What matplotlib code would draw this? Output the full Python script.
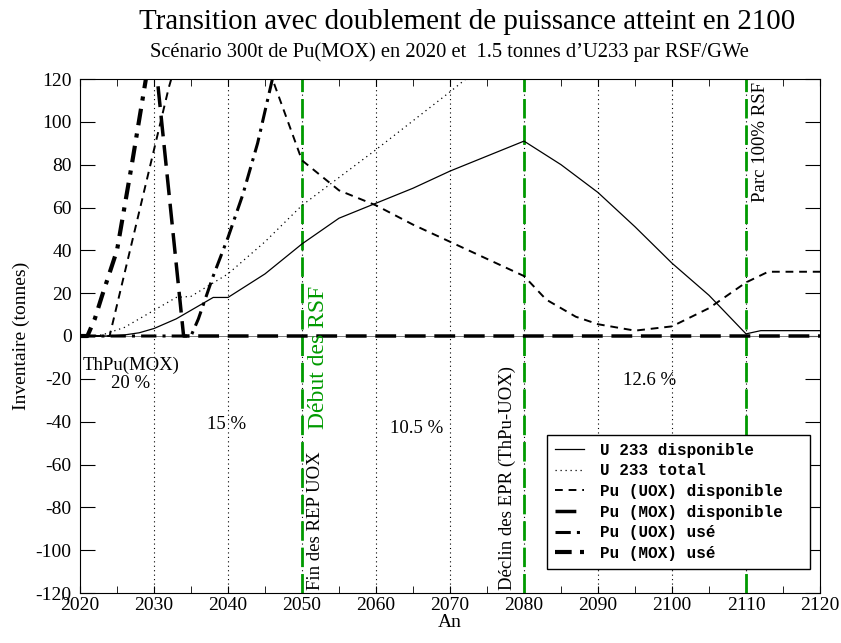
import numpy as np
import matplotlib
matplotlib.use("Agg")
import matplotlib.pyplot as plt

plt.rcParams['font.family'] = ['Liberation Serif', 'DejaVu Serif']
plt.rcParams['axes.unicode_minus'] = False

# inventaires (tonnes)
u233_disp_x = [2020, 2024, 2026, 2028, 2030, 2033, 2036, 2038, 2040, 2045, 2050, 2055, 2060,
               2065, 2070, 2075, 2080, 2085, 2090, 2095, 2100, 2105, 2110, 2112, 2120]
u233_disp_y = [0, 0, 0.5, 1.5, 3.5, 8, 14, 18, 18, 29, 43, 55, 62,
               69, 77, 84, 91, 80, 67, 51, 34, 19, 1, 2.5, 2.5]

u233_tot_x = [2020, 2023, 2026, 2030, 2033, 2035, 2040, 2045, 2050, 2055, 2060, 2070, 2075]
u233_tot_y = [0, 0.5, 4, 12, 18, 18.5, 29, 44, 61, 74, 87, 114, 128]

pu_uox_disp_x = [2020, 2024, 2030, 2032, 2034, 2040, 2046, 2050, 2055, 2060, 2065, 2070, 2075,
                 2080, 2083, 2087, 2090, 2095, 2100, 2105, 2110, 2113, 2120]
pu_uox_disp_y = [0, 0, 87, 116, 140, 160, 120, 82, 68, 61, 52, 44, 36,
                 28, 17, 9, 5.5, 2.5, 4.5, 13, 25, 30, 30]

pu_mox_disp_x = [2020, 2030, 2034, 2120]
pu_mox_disp_y = [300, 135, 0, 0]

pu_uox_use_x = [2020, 2035, 2036, 2038, 2040, 2042, 2044, 2046, 2047]
pu_uox_use_y = [0, 0, 8, 28, 46, 66, 90, 120, 135]

pu_mox_use_x = [2020, 2021, 2022, 2023, 2025, 2027, 2029, 2030]
pu_mox_use_y = [0, 0, 8, 19, 40, 80, 122, 150]

transitions = [2050, 2080, 2110]

fig = plt.figure(figsize=(8.41, 6.43), dpi=100)
ax = fig.add_axes([80/841, 50/643, 740/841, 514/643])

# grille verticale pointillée
for yr in range(2030, 2120, 10):
    ax.axvline(yr, color='black', lw=0.8, ls=(0, (1, 3)), zorder=1)
for yr in transitions:
    ax.axvline(yr, color='#009a00', lw=2, ls=(0, (7, 2.5)), zorder=2)

ax.axhline(0, color='0.4', lw=0.6, zorder=2)

ax.plot(u233_disp_x, u233_disp_y, color='black', lw=0.9, label='U 233 disponible  ', zorder=3)
ax.plot(u233_tot_x, u233_tot_y, color='black', lw=0.9, ls=(0, (1, 3)), label='U 233 total', zorder=3)
ax.plot(pu_uox_disp_x, pu_uox_disp_y, color='black', lw=1.4, ls=(0, (4, 3)),
        label='Pu (UOX) disponible  ', zorder=3)
ax.plot(pu_mox_disp_x, pu_mox_disp_y, color='black', lw=2.5, ls=(0, (6, 2.5)),
        label='Pu (MOX) disponible  ', zorder=3)
ax.plot(pu_uox_use_x, pu_uox_use_y, color='black', lw=2.2, ls=(0, (5, 2, 1, 2)),
        label='Pu (UOX) usé', zorder=3)
ax.plot(pu_mox_use_x, pu_mox_use_y, color='black', lw=3, ls=(0, (4, 2, 1, 2)),
        label='Pu (MOX) usé', zorder=3)

ax.set_xlim(2020, 2120)
ax.set_ylim(-120, 120)
ax.set_xticks(range(2020, 2121, 10))
ax.set_xticks(range(2025, 2120, 10), minor=True)
ax.set_yticks(range(-120, 121, 20))
ax.tick_params(axis='both', which='both', direction='in', top=True, right=True, labelsize=14)
ax.tick_params(axis='x', which='both', length=5, pad=3)
ax.tick_params(axis='y', which='both', length=10.5, pad=6)

ax.set_xlabel('An', fontsize=14, labelpad=0)
ax.set_ylabel('Inventaire (tonnes)', fontsize=14, labelpad=4)

# annotations
ax.text(2020.3, -13.5, 'ThPu(MOX)', fontsize=13.5, ha='left', va='center')
ax.text(2026.8, -22, '20 %', fontsize=13.5, ha='center', va='center')
ax.text(2039.8, -41.5, '15 %', fontsize=13.5, ha='center', va='center')
ax.text(2065.5, -43, '10.5 %', fontsize=13.5, ha='center', va='center')
ax.text(2097, -21, '12.6 %', fontsize=13.5, ha='center', va='center')
ax.text(2052.2, -10, 'Début des RSF', fontsize=17, color='#009a00', rotation=90,
        ha='center', va='center')
ax.text(2051.8, -118.5, 'Fin des REP UOX', fontsize=13.5, rotation=90, ha='center', va='bottom')
ax.text(2077.8, -118.5, 'Déclin des EPR (ThPu-UOX)', fontsize=13.5, rotation=90,
        ha='center', va='bottom')
ax.text(2111.9, 118.5, 'Parc 100% RSF', fontsize=13.5, rotation=90, ha='center', va='top')

leg = ax.legend(loc='lower right', bbox_to_anchor=(0.986, 0.047), borderaxespad=0,
                prop={'family': 'Liberation Mono', 'weight': 'bold', 'size': 11.5},
                frameon=True, fancybox=False, edgecolor='black', framealpha=1,
                handlelength=1.8, handletextpad=1.0, labelspacing=0.35, borderpad=0.5)
leg.get_frame().set_linewidth(1)

fig.text(0.556, 1 - 22/643, 'Transition avec doublement de puissance atteint en 2100',
         fontsize=20.9, ha='center', va='center')
fig.text(0.534, 1 - 52/643, 'Scénario 300t de Pu(MOX) en 2020 et  1.5 tonnes d\u2019U233 par RSF/GWe',
         fontsize=14.8, ha='center', va='center')

fig.savefig('out.png', dpi=100)
